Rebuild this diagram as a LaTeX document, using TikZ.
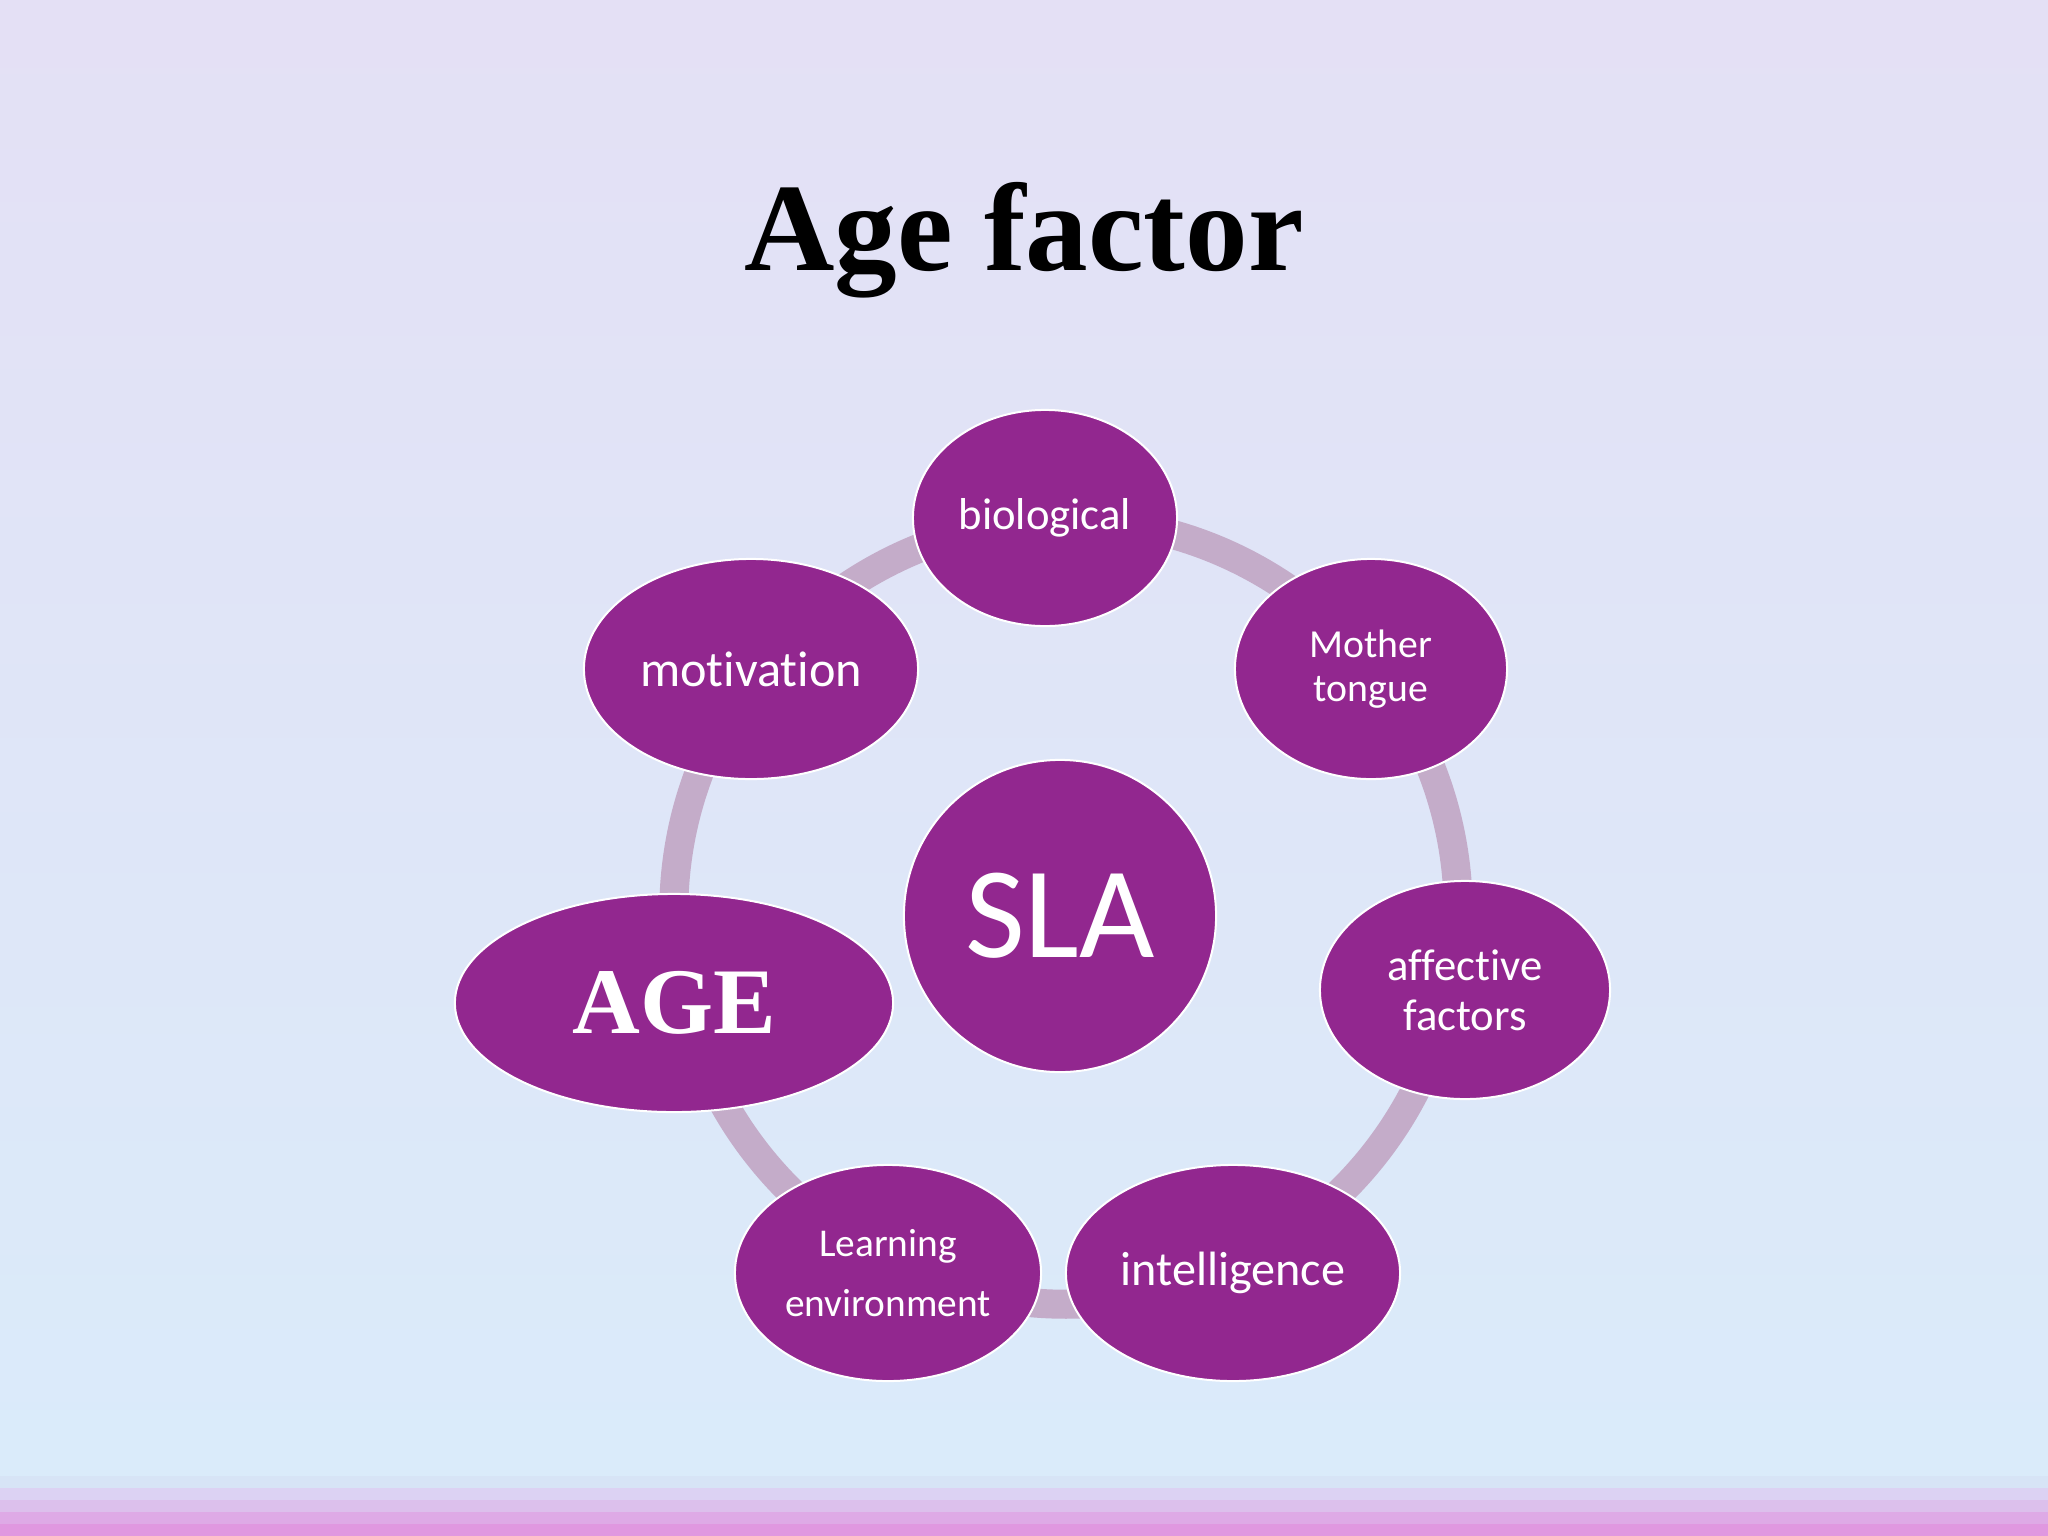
\documentclass[tikz,border=0pt]{standalone}
\usepackage{fontspec}
\setmainfont{Carlito}[Ligatures=NoCommon]
\newfontfamily\timesfont{Liberation Serif}
\usetikzlibrary{shapes.geometric}

\definecolor{ciruela}{RGB}{146,39,143}
\definecolor{anillo}{RGB}{196,172,201}
\definecolor{fondoarriba}{RGB}{228,224,245}
\definecolor{fondoabajo}{RGB}{218,235,250}

\begin{document}
\begin{tikzpicture}[x=0.01cm,y=-0.01cm,
	burbuja/.style={ellipse,fill=ciruela,draw=white,line width=0.02cm,text=white,inner sep=0pt,align=center}]
	\useasboundingbox (0,0) rectangle (2048,1536);

	%fondo
	\shade[top color=fondoarriba,bottom color=fondoabajo] (0,0) rectangle (2048,1476);
	\fill[color={rgb,255:red,215;green,228;blue,246}] (0,1476) rectangle (2048,1488);
	\fill[color={rgb,255:red,220;green,210;blue,243}] (0,1488) rectangle (2048,1500);
	\fill[color={rgb,255:red,220;green,192;blue,236}] (0,1500) rectangle (2048,1512);
	\fill[color={rgb,255:red,222;green,170;blue,230}] (0,1512) rectangle (2048,1524);
	\fill[color={rgb,255:red,224;green,152;blue,224}] (0,1524) rectangle (2048,1536);

	%titulo
	\node[anchor=base,font=\timesfont\bfseries\fontsize{35.6}{40}\selectfont] (titulo) at (1024,270) {Age factor};

	%anillo
	\coordinate (centro) at (1066,912);
	\draw[anillo,line width=0.29cm] (centro) circle [radius=3.92cm];

	%burbujas
	\node[burbuja,minimum width=2.64cm,minimum height=2.16cm,font=\fontsize{12.7}{15}\selectfont] (bio) at (1045,518) {biological};
	\node[burbuja,minimum width=2.72cm,minimum height=2.20cm,font=\fontsize{11.3}{12.5}\selectfont] (lengua) at (1371,669) {Mother\\tongue};
	\node[burbuja,minimum width=2.90cm,minimum height=2.18cm,font=\fontsize{12.7}{14.2}\selectfont] (afect) at (1465,990) {affective\\factors};
	\node[burbuja,minimum width=3.34cm,minimum height=2.16cm,font=\fontsize{13.7}{16}\selectfont] (intel) at (1233,1273) {intelligence};
	\node[burbuja,minimum width=3.06cm,minimum height=2.16cm,font=\fontsize{11.2}{17}\selectfont] (entorno) at (888,1273) {Learning\\environment};
	\node[burbuja,minimum width=4.38cm,minimum height=2.18cm,font=\timesfont\bfseries\fontsize{26.7}{30}\selectfont] (edad) at (674,1003) {AGE};
	\node[burbuja,minimum width=3.34cm,minimum height=2.20cm,font=\fontsize{14.3}{17}\selectfont] (motiv) at (751,669) {motivation};

	%centro
	\node[burbuja,circle,minimum size=3.12cm,font=\fontsize{37}{40}\selectfont] (sla) at (1060,916) {SLA};
\end{tikzpicture}
\end{document}
